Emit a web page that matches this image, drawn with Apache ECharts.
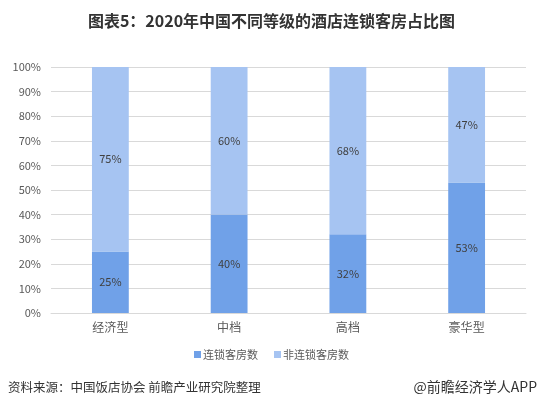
<!DOCTYPE html>
<html>
<head>
<meta charset="utf-8">
<script src="https://cdn.jsdelivr.net/npm/echarts@6/dist/echarts.min.js"></script>
<style>
  html, body { margin: 0; padding: 0; background: #fff; }
  #main { width: 543px; height: 411px; }
</style>
</head>
<body>
<div id="main"></div>
<script>
const categories = ['经济型', '中档', '高档', '豪华型']
const chainShare = [25, 40, 32, 53]
const nonChainShare = [75, 60, 68, 47]

const chart = echarts.init(document.getElementById('main'))
const font = '"Microsoft YaHei", "Noto Sans CJK SC", sans-serif'

chart.setOption({
  backgroundColor: '#fff',
  textStyle: { fontFamily: font },
  title: {
    text: '图表5：2020年中国不同等级的酒店连锁客房占比图',
    left: 'center',
    top: 8,
    textStyle: { fontSize: 16, fontWeight: 'bold', color: '#333', fontFamily: font }
  },
  grid: { left: 51, right: 17, top: 67, bottom: 98 },
  legend: {
    bottom: 46,
    left: 'center',
    itemWidth: 7,
    itemHeight: 7,
    itemGap: 16,
    icon: 'rect',
    textStyle: { fontSize: 11, color: '#595959', padding: [0, 0, 0, -3] },
    data: ['连锁客房数', '非连锁客房数']
  },
  xAxis: {
    type: 'category',
    data: categories,
    axisLine: { lineStyle: { color: '#d9d9d9' } },
    axisTick: { show: false },
    axisLabel: { color: '#595959', fontSize: 12, margin: 8 }
  },
  yAxis: {
    type: 'value',
    min: 0,
    max: 100,
    interval: 10,
    axisLabel: { formatter: '{value}%', color: '#595959', fontSize: 11, margin: 10 },
    axisLine: { show: false },
    axisTick: { show: false },
    splitLine: { lineStyle: { color: '#d9d9d9' } }
  },
  series: [
    {
      name: '连锁客房数',
      type: 'bar',
      stack: 'total',
      barWidth: '31%',
      data: chainShare,
      itemStyle: { color: '#70a1e8' },
      label: { show: true, position: 'inside', formatter: '{c}%', color: '#404040', fontSize: 11 }
    },
    {
      name: '非连锁客房数',
      type: 'bar',
      stack: 'total',
      barWidth: '31%',
      data: nonChainShare,
      itemStyle: { color: '#a6c4f2' },
      label: { show: true, position: 'inside', formatter: '{c}%', color: '#404040', fontSize: 11 }
    }
  ],
  graphic: [
    {
      type: 'text',
      left: 8,
      top: 381,
      style: { text: '资料来源：中国饭店协会 前瞻产业研究院整理', fill: '#333', font: '12.5px ' + font }
    },
    {
      type: 'text',
      right: 6,
      top: 380,
      style: { text: '@前瞻经济学人APP', fill: '#333', font: '14px ' + font }
    }
  ]
})
</script>
</body>
</html>
